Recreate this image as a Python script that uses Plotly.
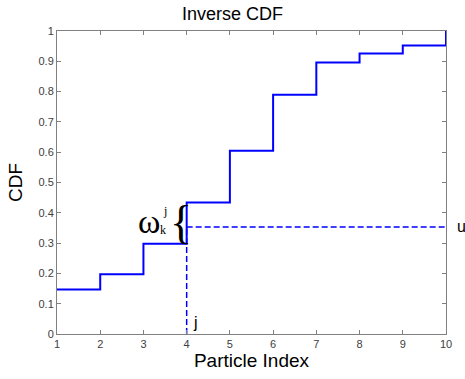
import plotly.graph_objects as go

particle_index = [1, 2, 3, 4, 5, 6, 7, 8, 9, 10]
cdf_values = [0.147, 0.197, 0.298, 0.434, 0.605, 0.79, 0.896, 0.926, 0.952, 1.0]
u_value = 0.353
j_index = 4
x_ticks = [1, 2, 3, 4, 5, 6, 7, 8, 9, 10]
y_ticks = [0, 0.1, 0.2, 0.3, 0.4, 0.5, 0.6, 0.7, 0.8, 0.9, 1]

blue = "#0000FF"
sans = "Liberation Sans, Arial"
serif = "Liberation Serif, DejaVu Serif, serif"

fig = go.Figure()
fig.add_trace(go.Scatter(x=particle_index, y=cdf_values, mode="lines",
                         line=dict(color=blue, width=2, shape="hv"), showlegend=False))
fig.add_trace(go.Scatter(x=[j_index, j_index], y=[0, u_value], mode="lines",
                         line=dict(color=blue, width=1.5, dash="6px,3px"), showlegend=False))
fig.add_trace(go.Scatter(x=[j_index, particle_index[-1]], y=[u_value, u_value], mode="lines",
                         line=dict(color=blue, width=1.5, dash="6px,3px"), showlegend=False))

axis_common = dict(showline=True, linecolor="#808080", linewidth=1, mirror="ticks",
                   ticks="inside", ticklen=4, tickcolor="#808080", showgrid=False, zeroline=False,
                   tickfont=dict(family=sans, size=11, color="#404040"))
fig.update_xaxes(range=[1, 10], tickvals=x_ticks, **axis_common,
                 title=dict(text="Particle Index", font=dict(family=sans, size=19, color="black"), standoff=3))
fig.update_yaxes(range=[0, 1], tickvals=y_ticks,
                 ticktext=[str(int(v)) if v in (0, 1) else str(v) for v in y_ticks],
                 **axis_common,
                 title=dict(text="CDF", font=dict(family=sans, size=19, color="black"), standoff=10))

fig.add_annotation(x=j_index, y=u_value, xref="x", yref="y", text="{", showarrow=False,
                   font=dict(family=serif, size=46, color="black"), xshift=-6, yshift=5)
fig.add_annotation(x=j_index, y=u_value, xref="x", yref="y", text="ω", showarrow=False,
                   font=dict(family=serif, size=34, color="black"), xshift=-38, yshift=6)
fig.add_annotation(x=j_index, y=u_value, xref="x", yref="y", text="j", showarrow=False,
                   font=dict(family=serif, size=12, color="black"), xshift=-22, yshift=16)
fig.add_annotation(x=j_index, y=u_value, xref="x", yref="y", text="k", showarrow=False,
                   font=dict(family=serif, size=12, color="black"), xshift=-24, yshift=-3)
fig.add_annotation(x=j_index, y=0, xref="x", yref="y", text="j", showarrow=False,
                   font=dict(family=sans, size=16, color="black"), xshift=9, yshift=12)
fig.add_annotation(x=particle_index[-1], y=u_value, xref="x", yref="y", text="u", showarrow=False,
                   font=dict(family=sans, size=16, color="black"), xshift=15, yshift=1)

fig.update_layout(width=465, height=379, margin=dict(l=57, r=19, t=31, b=42),
                  paper_bgcolor="white", plot_bgcolor="white",
                  title=dict(text="Inverse CDF", x=0.5, xanchor="center", y=0.965, yanchor="middle",
                             font=dict(family=sans, size=18, color="black")))
fig.write_html("out.html")
